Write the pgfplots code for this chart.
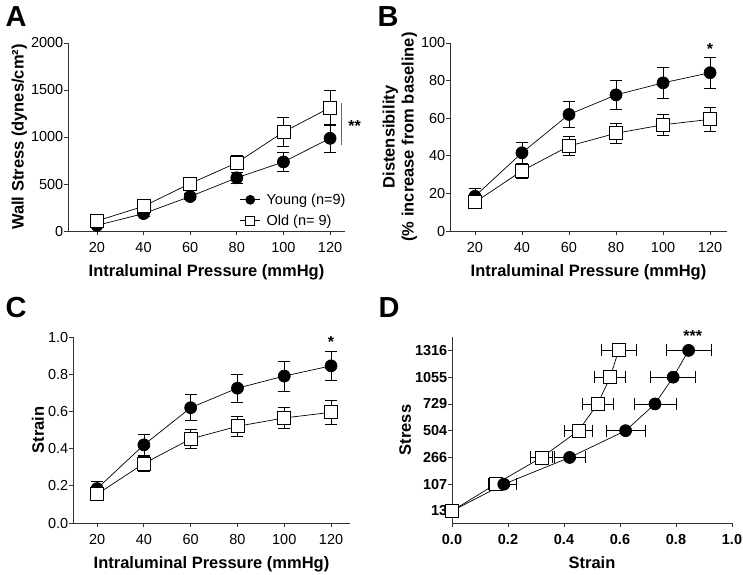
\documentclass[border=0pt]{standalone}
\usepackage{fontspec}
\setmainfont{Liberation Sans}
\usepackage{pgfplots}
\pgfplotsset{compat=1.18}

\pgfplotsset{
  panel/.style={
    scale only axis,
    axis x line*=bottom, axis y line*=left,
    axis line style={-, line width=0.8pt, black!80},
    tick align=outside, major tick length=4pt,
    tick style={line width=0.8pt, black!80},
    ticklabel style={font=\fontsize{14.5}{16}\selectfont},
    yticklabel style={inner xsep=0.5pt},
    xticklabel style={yshift=-4pt},
    label style={font=\bfseries\fontsize{16.5}{19}\selectfont},
    xlabel style={yshift=-5pt},
    /pgf/number format/assume math mode=true,
    /pgf/number format/set thousands separator={},
    clip=false,
    legend image code/.code={
      \draw[mark repeat=2, mark phase=2, #1, mark size=4.5pt]
        plot coordinates {(0pt,0pt) (10pt,0pt) (20pt,0pt)};},
  },
  young/.style={black, line width=0.7pt, mark=*, mark size=6pt,
    mark options={fill=black, solid},
    error bars/error mark options={rotate=90, mark size=6pt, line width=0.7pt, black},
    error bars/error bar style={line width=0.7pt, black}},
  old/.style={black, line width=0.7pt, mark=square*, mark size=6.5pt,
    mark options={fill=white, draw=black, line width=0.8pt, solid},
    error bars/error mark options={rotate=90, mark size=6pt, line width=0.7pt, black},
    error bars/error bar style={line width=0.7pt, black}},
}

\begin{document}
\begin{tikzpicture}
\useasboundingbox (0,0) rectangle (743pt,-574pt);

% panel letters
\node[font=\bfseries\fontsize{29}{32}\selectfont] at (16pt,-17pt) {A};
\node[font=\bfseries\fontsize{29}{32}\selectfont] at (388pt,-17pt) {B};
\node[font=\bfseries\fontsize{29}{32}\selectfont] at (16pt,-308pt) {C};
\node[font=\bfseries\fontsize{29}{32}\selectfont] at (389pt,-308pt) {D};

% A
\begin{axis}[panel, at={(68pt,-231pt)}, anchor=south west,
  width=277pt, height=188pt,
  xmin=7.6, xmax=126.4, ymin=0, ymax=2000,
  xtick={20,40,...,120}, ytick={0,500,...,2000},
  xlabel={Intraluminal Pressure (mmHg)},
  ylabel={Wall Stress (dynes/cm²)},
  legend style={draw=none, fill=none, at={(1.035,0.0)}, anchor=south east,
    font=\fontsize{14.5}{16}\selectfont, row sep=5pt,
    nodes={inner xsep=6pt}},
  legend cell align=left]
\addplot[young, error bars/.cd, y dir=both, y explicit] coordinates {
  (20,60) +- (0,15) (40,185) +- (0,25) (60,367) +- (0,35)
  (80,566) +- (0,55) (100,735) +- (0,100) (120,986) +- (0,145)};
\addlegendentry{Young (n=9)}
\addplot[old, error bars/.cd, y dir=both, y explicit] coordinates {
  (20,107) +- (0,20) (40,263) +- (0,30) (60,505) +- (0,35)
  (80,726) +- (0,75) (100,1053) +- (0,155) (120,1313) +- (0,185)};
\addlegendentry{Old (n= 9)}
\draw[black!60, line width=0.8pt] (axis cs:124.7,1359) -- (axis cs:124.7,915);
\node[font=\bfseries\fontsize{16}{18}\selectfont] at (axis cs:130.5,1120) {**};
\end{axis}

% B
\begin{axis}[panel, at={(450pt,-231pt)}, anchor=south west,
  width=277pt, height=188pt,
  xmin=9.4, xmax=127.2, ymin=0, ymax=100,
  xtick={20,40,...,120}, ytick={0,20,...,100},
  xlabel={Intraluminal Pressure (mmHg)},
  ylabel={Distensibility\\(\% increase from baseline)},
  ylabel style={align=center}]
\addplot[young, error bars/.cd, y dir=both, y explicit] coordinates {
  (20,18.5) +- (0,4) (40,41.6) +- (0,5.5) (60,62) +- (0,7)
  (80,72.4) +- (0,7.5) (100,78.8) +- (0,8) (120,84.2) +- (0,8.3)};
\addplot[old, error bars/.cd, y dir=both, y explicit] coordinates {
  (20,15.3) +- (0,2.5) (40,32) +- (0,4) (60,45.2) +- (0,5)
  (80,52) +- (0,5.3) (100,56.5) +- (0,5.6) (120,59.4) +- (0,6.3)};
\node[font=\bfseries\fontsize{16}{18}\selectfont] at (axis cs:120,97) {*};
\end{axis}

% C
\begin{axis}[panel, at={(73pt,-523pt)}, anchor=south west,
  width=277pt, height=186pt,
  xmin=9.7, xmax=128.1, ymin=0, ymax=1,
  xtick={20,40,...,120}, ytick={0,0.2,...,1.0},
  yticklabel style={/pgf/number format/.cd, fixed, fixed zerofill, precision=1},
  xlabel={Intraluminal Pressure (mmHg)},
  ylabel={Strain}]
\addplot[young, error bars/.cd, y dir=both, y explicit] coordinates {
  (20,0.185) +- (0,0.04) (40,0.42) +- (0,0.055) (60,0.62) +- (0,0.07)
  (80,0.725) +- (0,0.075) (100,0.79) +- (0,0.08) (120,0.845) +- (0,0.08)};
\addplot[old, error bars/.cd, y dir=both, y explicit] coordinates {
  (20,0.155) +- (0,0.025) (40,0.32) +- (0,0.04) (60,0.452) +- (0,0.05)
  (80,0.52) +- (0,0.055) (100,0.565) +- (0,0.055) (120,0.595) +- (0,0.063)};
\node[font=\bfseries\fontsize{16}{18}\selectfont] at (axis cs:120,0.975) {*};
\end{axis}

% D
\begin{axis}[panel, at={(452pt,-523pt)}, anchor=south west,
  width=280pt, height=186pt,
  xmin=0, xmax=1, ymin=-0.45, ymax=6.5,
  xtick={0,0.2,...,1.0}, ytick={0,...,6},
  yticklabels={13,107,266,504,729,1055,1316},
  ticklabel style={font=\bfseries\fontsize{14.5}{16}\selectfont},
  xticklabel style={/pgf/number format/.cd, fixed, fixed zerofill, precision=1},
  xlabel={Strain}, ylabel={Stress}]
\addplot[old, error bars/.cd, x dir=both, x explicit] coordinates {
  (0,0) +- (0,0) (0.155,1) +- (0.025,0) (0.32,2) +- (0.04,0) (0.452,3) +- (0.05,0)
  (0.52,4) +- (0.055,0) (0.565,5) +- (0.055,0) (0.595,6) +- (0.063,0)};
\addplot[young, mark indices={2,3,4,5,6,7}, error bars/.cd, x dir=both, x explicit] coordinates {
  (0,0) +- (0,0) (0.185,1) +- (0.045,0) (0.42,2) +- (0.055,0) (0.62,3) +- (0.07,0)
  (0.725,4) +- (0.075,0) (0.79,5) +- (0.08,0) (0.845,6) +- (0.08,0)};
\node[font=\bfseries\fontsize{16}{18}\selectfont] at (axis cs:0.86,6.55) {***};
\end{axis}
\end{tikzpicture}
\end{document}
